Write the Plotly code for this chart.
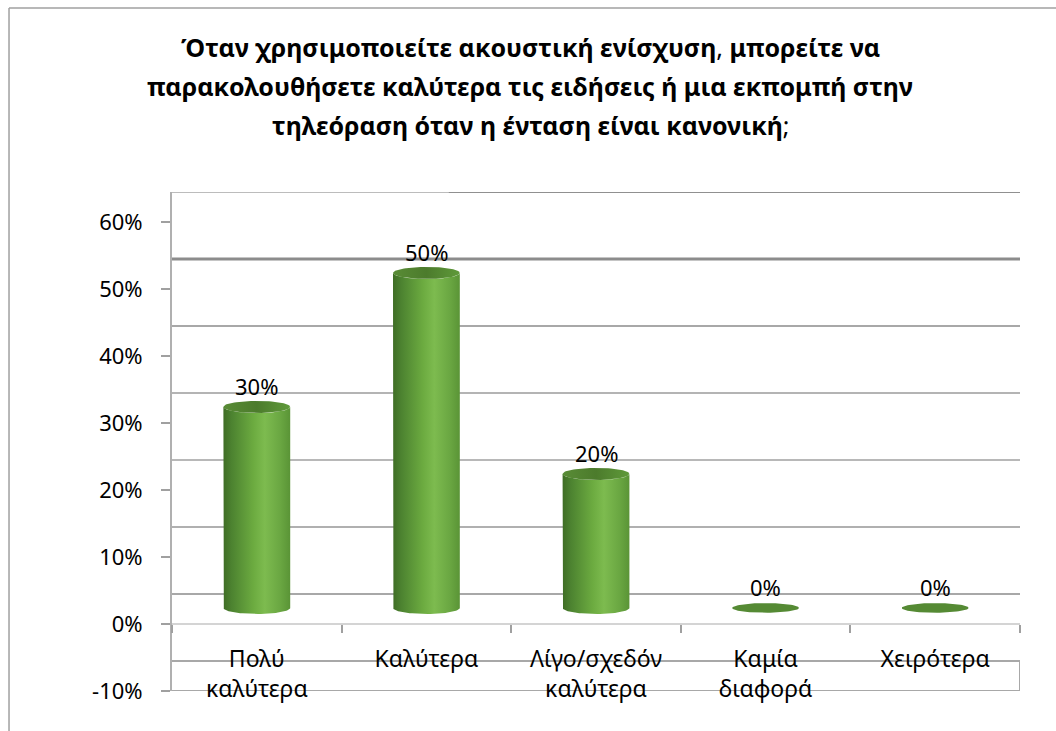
import numpy as np
import plotly.graph_objects as go

# Survey answers and their shares (%)
categories = ["Πολύ<br>καλύτερα", "Καλύτερα", "Λίγο/σχεδόν<br>καλύτερα", "Καμία<br>διαφορά", "Χειρότερα"]
values = [30, 50, 20, 0, 0]
y_tick_values = [-10, 0, 10, 20, 30, 40, 50, 60]
title_lines = [
    "<b>Όταν χρησιμοποιείτε ακουστική ενίσχυση</b>, <b>μπορείτε να</b>",
    "<b>παρακολουθήσετε καλύτερα τις ειδήσεις ή μια εκπομπή στην</b>",
    "<b>τηλεόραση όταν η ένταση είναι κανονική</b>;",
]

# 3-D look: cylinders sit a little behind the front edge, back wall further back
CYL_DEPTH = 2.4
WALL_DEPTH = 4.48
HALF_W = 0.197
RY = 0.9
Y_MIN, Y_MAX = -10, 60 + WALL_DEPTH
FONT = "Noto Sans"

side_scale = [[0.0, "#3f6d25"], [0.12, "#4c8230"], [0.45, "#6cab40"],
              [0.62, "#7dbb4f"], [0.85, "#6aa742"], [1.0, "#5a9436"]]
top_scale = [[0.0, "#598c36"], [0.5, "#4c7b2c"], [1.0, "#5f9a3a"]]
disk_color = "#558a34"

fig = go.Figure()

half = np.linspace(0, np.pi, 40)
full = np.linspace(0, 2 * np.pi, 80)

for i, v in enumerate(values):
    b = CYL_DEPTH
    t = CYL_DEPTH + v
    if v > 0:
        xs = [i - HALF_W] + list(i - HALF_W * np.cos(half)) + [i + HALF_W] + list(i + HALF_W * np.cos(half))
        ys = [t] + list(b - RY * np.sin(half)) + [t] + list(t - RY * np.sin(half))
        fig.add_trace(go.Scatter(
            x=xs, y=ys, mode="lines", fill="toself", line=dict(width=0),
            fillgradient=dict(type="horizontal", colorscale=side_scale),
            hoverinfo="skip", showlegend=False))
        fig.add_trace(go.Scatter(
            x=i + HALF_W * np.cos(full), y=t + RY * np.sin(full), mode="lines",
            fill="toself", line=dict(width=0),
            fillgradient=dict(type="horizontal", colorscale=top_scale),
            hoverinfo="skip", showlegend=False))
    else:
        fig.add_trace(go.Scatter(
            x=i + HALF_W * np.cos(full), y=t + RY * 0.8 * np.sin(full), mode="lines",
            fill="toself", line=dict(width=0), fillcolor=disk_color,
            hoverinfo="skip", showlegend=False))
    fig.add_annotation(x=i, y=t, text=f"{v}%", showarrow=False, yanchor="middle",
                       yshift=21, font=dict(family=FONT, size=22, color="black"))

# back wall gridlines
grid_colors = ["#a8a8a8", "#a8a8a8", "#b0b0b0", "#b8b8b8", "#b4b4b4", "#a8a8a8", "#8c8c8c"]
for k, g in enumerate(y_tick_values[:-1]):
    fig.add_shape(type="line", xref="x", yref="y", x0=-0.5, x1=4.5,
                  y0=g + WALL_DEPTH, y1=g + WALL_DEPTH,
                  line=dict(color=grid_colors[k], width=3 if k == 6 else 2), layer="below")
fig.add_shape(type="line", xref="x", yref="y", x0=-0.5, x1=1.13,
              y0=Y_MAX, y1=Y_MAX, line=dict(color="#bcbcbc", width=2), layer="below")
fig.add_shape(type="line", xref="x", yref="y", x0=1.13, x1=4.5,
              y0=Y_MAX, y1=Y_MAX, line=dict(color="#909090", width=2), layer="below")
# lower box under the floor
fig.add_shape(type="line", xref="x", yref="y", x0=-0.5, x1=4.5, y0=-10, y1=-10,
              line=dict(color="#a8a8a8", width=2), layer="below")
fig.add_shape(type="line", xref="x", yref="y", x0=4.5, x1=4.5, y0=-10, y1=-10 + WALL_DEPTH,
              line=dict(color="#a8a8a8", width=2), layer="below")

# outer chart border
fig.add_shape(type="line", xref="paper", yref="paper", x0=-0.1922, x1=1.06,
              y0=1.3687, y1=1.3687, line=dict(color="#a0a0a0", width=1.5))
fig.add_shape(type="line", xref="paper", yref="paper", x0=-0.1922, x1=-0.1922,
              y0=1.3687, y1=-0.1, line=dict(color="#a0a0a0", width=1.5))

for j, line in enumerate(title_lines):
    fig.add_annotation(xref="paper", yref="paper", x=0.4222, y=[1.2906, 1.2124, 1.1343][j],
                       text=line, showarrow=False, xanchor="center", yanchor="middle",
                       font=dict(family=FONT, size=25, color="black"))

fig.update_layout(
    width=1056, height=731,
    margin=dict(l=172, r=36, t=192, b=40),
    paper_bgcolor="white", plot_bgcolor="white",
    showlegend=False,
    xaxis=dict(
        range=[-0.5, 4.5], tickvals=list(range(len(categories))), ticktext=categories,
        ticks="", showgrid=False, zeroline=False,
        anchor="free", position=(0 - Y_MIN) / (Y_MAX - Y_MIN),
        showline=True, linecolor="#d4d4d4", linewidth=2,
        tickfont=dict(family=FONT, size=23, color="black"),
        ticklabelstandoff=14,
        minor=dict(tickvals=[k - 0.5 for k in range(len(categories) + 1)],
                   ticks="outside", ticklen=8, tickcolor="#a0a0a0", tickwidth=2, showgrid=False),
    ),
    yaxis=dict(
        range=[Y_MIN, Y_MAX], tickvals=y_tick_values,
        ticktext=[f"{t}%" for t in y_tick_values],
        ticks="outside", ticklen=9, tickcolor="#a0a0a0", tickwidth=2,
        showline=True, linecolor="#b0b0b0", linewidth=2,
        showgrid=False, zeroline=False,
        tickfont=dict(family=FONT, size=22, color="black"),
        ticklabelstandoff=14,
    ),
)

fig.write_html("out.html")
